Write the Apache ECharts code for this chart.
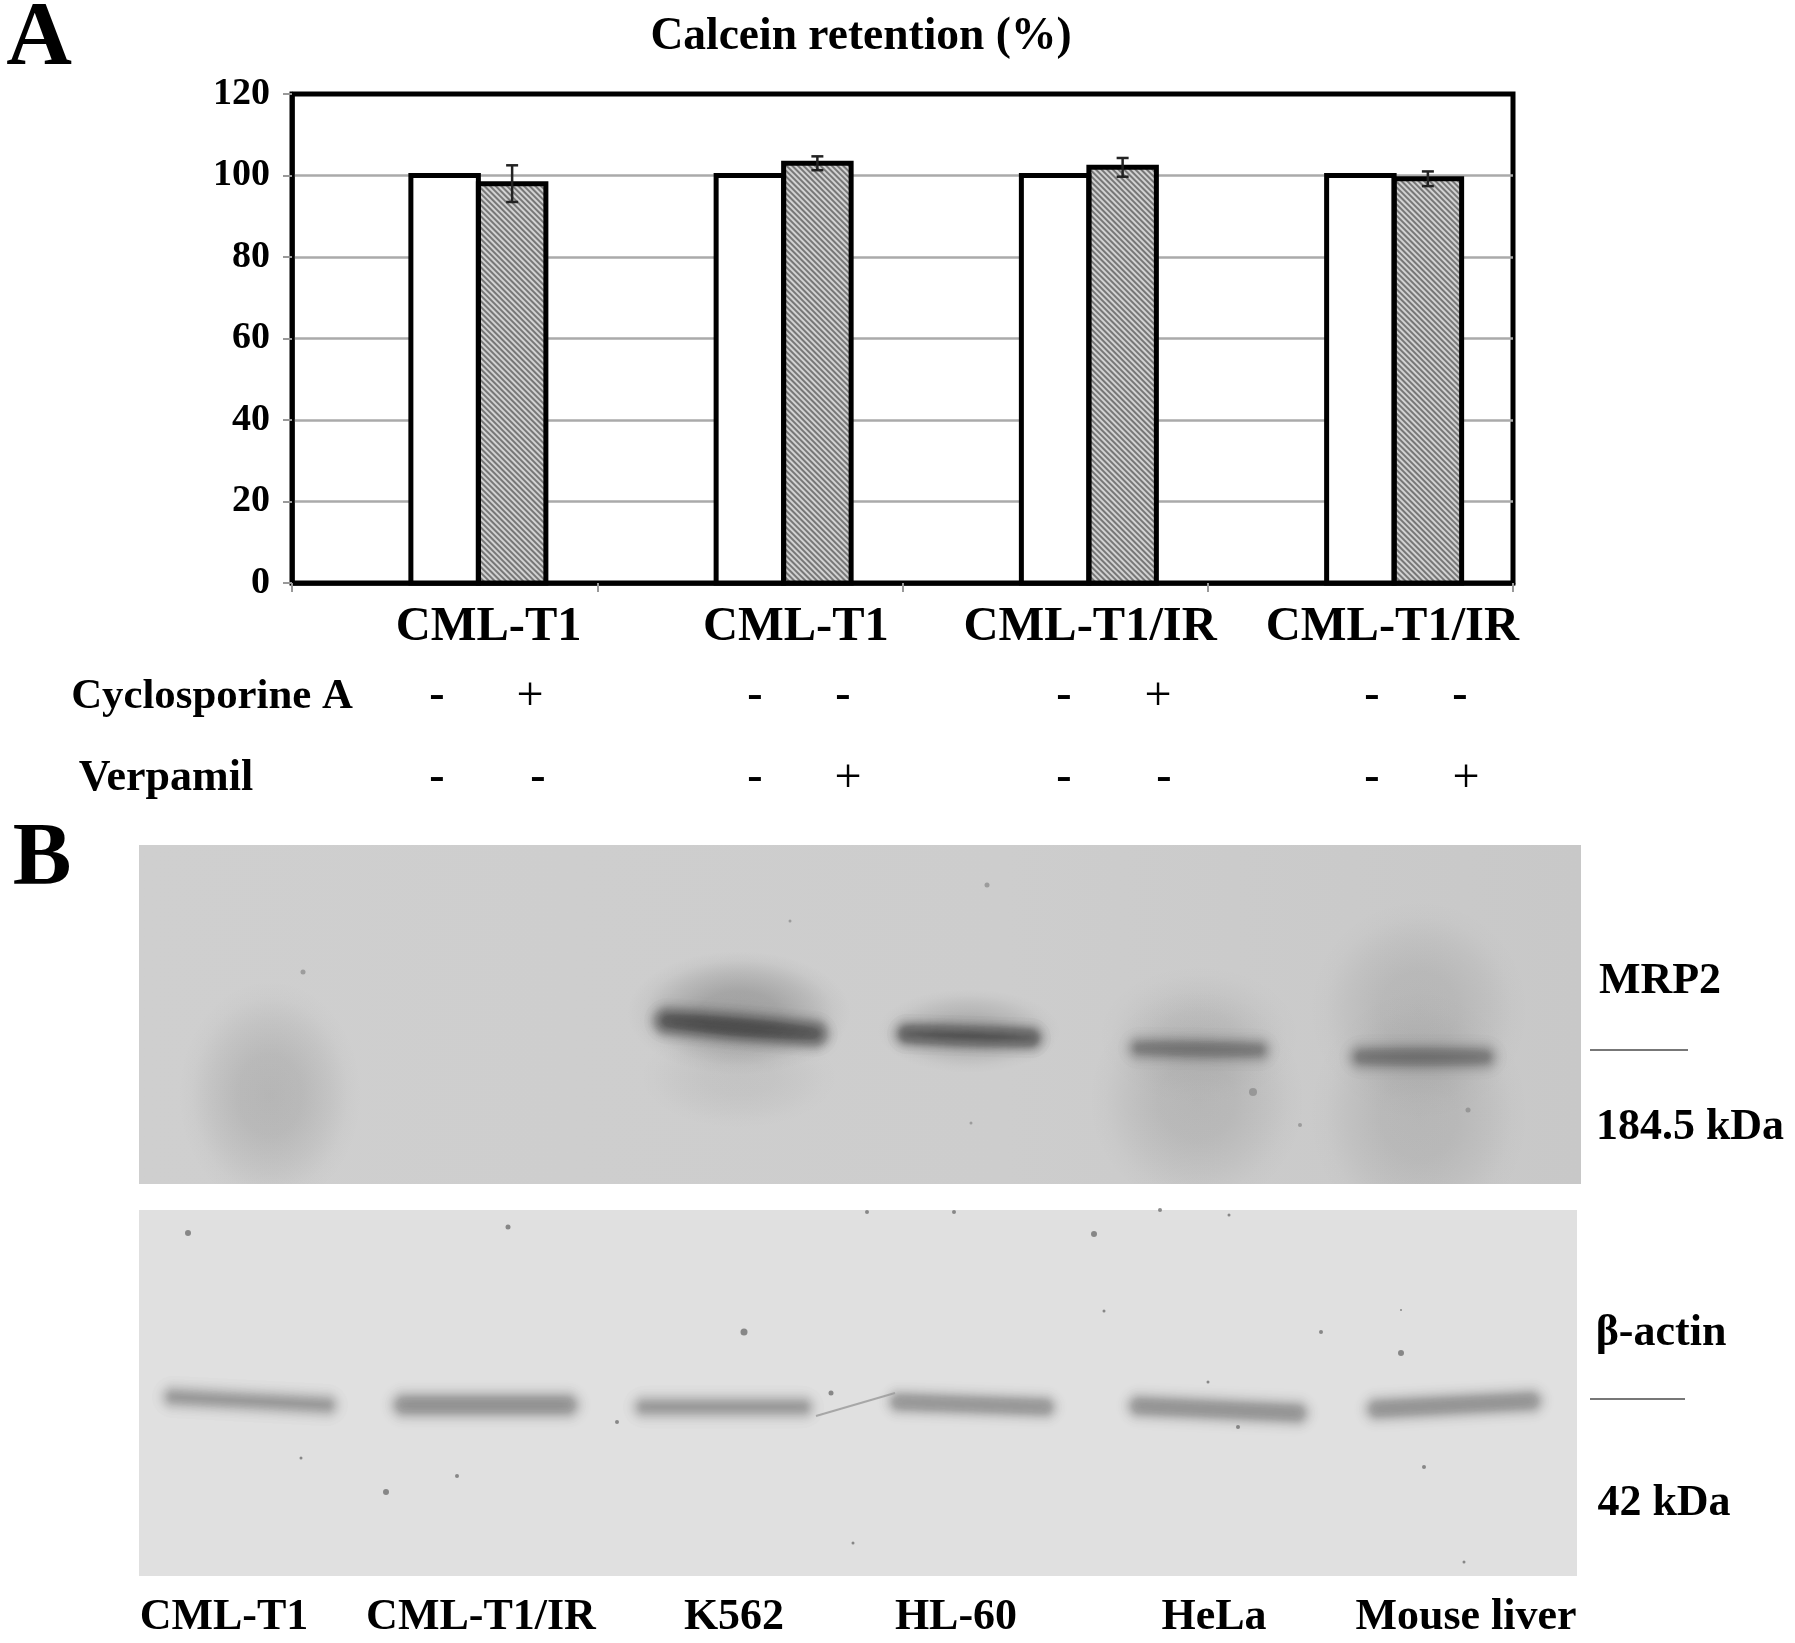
<!DOCTYPE html>
<html><head><meta charset="utf-8">
<style>html,body{margin:0;padding:0;background:#fff}#c{width:1795px;height:1643px}</style>
<script src="https://cdn.jsdelivr.net/npm/echarts@6/dist/echarts.min.js"></script>
</head><body><div id="c"></div>
<script>
// ---- data ----
const categories = ['CML-T1','CML-T1','CML-T1/IR','CML-T1/IR'];
const control = [100,100,100,100];
const treated = [98,103,102,99.2];
const treatedErr = [4.5,1.7,2.3,1.8];
const yTicks = [0,20,40,60,80,100,120];
const title = 'Calcein retention (%)';
const cyclosporine = ['-','+','-','-','-','+','-','-'];
const verapamil = ['-','-','-','+','-','-','-','+'];
const laneNames = ['CML-T1','CML-T1/IR','K562','HL-60','HeLa','Mouse liver'];

// gel bands in lane/migration units of each blot: [x0,y0,x1,y1,darkness,thickness]
const mrp2Bands = [
 [528,176,676,189,.42,46],[768,189,892,193,.3,42],
 [1000,203,1120,205,.18,44],[1222,212,1346,212,.2,46]
];
// diffuse smears: [centre x, centre y, radius x, radius y, darkness]
const mrp2Smears = [
 [131,250,92,115,.14],
 [600,168,112,62,.26],[600,232,100,52,.06],
 [830,186,92,42,.18],
 [1060,190,102,70,.07],[1058,255,108,110,.12],
 [1280,165,110,110,.11],[1280,270,110,125,.11]
];
const actinBands = [
 [34,187,188,195,.2,44],[265,195,428,195,.24,46],[505,197,664,197,.21,44],
 [760,192,906,197,.28,42],[1000,196,1158,203,.24,44],[1238,199,1392,191,.22,44]
];
const mrp2Specks = [[164,127,5],[848,40,5],[651,76,3],[1114,247,8],[1161,280,4],[1329,265,5],[832,278,3]];
const actinSpecks = [[49,23,6],[369,17,5],[728,2,4],[955,24,6],[815,2,4],[1021,0,4],[692,183,5],[478,212,4],[247,282,6],[318,266,4],[162,248,3],[605,122,7],[714,333,3],[1182,122,4],[965,101,3],[1262,143,6],[1099,217,4],[1285,257,4],[1069,172,3],[1325,352,3],[1090,5,3],[1262,100,2]];
const scratch = [[677,206,756,183,.45,2]];

// ---- layout ----
const BAR_W = 67.5;
const FONT = '"Liberation Serif"';
const txt = (s,x,y,size,extra) => ({type:'text',x,y,silent:true,style:Object.assign({text:s,fill:'#000',font:`bold ${size}px ${FONT}`,align:'center',verticalAlign:'middle'},extra||{})});
const signX1 = [437,530,755,843,1064,1158,1372,1460];
const signX2 = [437,538,755,848,1064,1164,1372,1466];
const laneX = [224,481,734,956,1214,1466];
const labelShift = [44,46,35,32];

const clipOf = params => ({type:'rect',shape:{x:params.coordSys.x,y:params.coordSys.y,width:params.coordSys.width,height:params.coordSys.height}});
function softBand(color){
  return function(params,api){
    const a = api.coord([api.value(0),api.value(1)]);
    const b = api.coord([api.value(2),api.value(3)]);
    const dark = api.value(4), th = api.value(5);
    const N = Math.max(3,Math.min(24,Math.round(th/2),Math.floor(dark/.005)));
    const kids = [];
    for(let i=0;i<N;i++){
      const w = th/2*Math.sqrt(-Math.log((i+.5)/N));
      kids.push({type:'line',shape:{x1:a[0],y1:a[1],x2:b[0],y2:b[1]},
        style:{stroke:color,lineWidth:w,lineCap:'round',opacity:dark/N,fill:null,shadowBlur:th/4,shadowColor:color},silent:true});
    }
    return {type:'group',children:kids,clipPath:clipOf(params)};
  };
}
function softSmear(params,api){
  const c = api.coord([api.value(0),api.value(1)]);
  const s = api.size([api.value(2),api.value(3)]);
  const d = api.value(4);
  const rgba = k => `rgba(30,30,30,${(d*k).toFixed(4)})`;
  return {type:'group',clipPath:clipOf(params),children:[{
    type:'circle',x:c[0],y:c[1],scaleX:s[0]/s[1],scaleY:1,silent:true,
    shape:{cx:0,cy:0,r:s[1]},
    style:{fill:{type:'radial',x:.5,y:.5,r:.5,colorStops:[
      {offset:0,color:rgba(1)},{offset:.35,color:rgba(.88)},{offset:.65,color:rgba(.45)},{offset:.85,color:rgba(.12)},{offset:1,color:rgba(0)}]}}
  }]};
}
const gelAxes = (idx,w,h)=>({
  x:{type:'value',gridIndex:idx,min:0,max:w,show:false},
  y:{type:'value',gridIndex:idx,min:0,max:h,inverse:true,show:false}
});
const g1 = gelAxes(1,1442,339), g2 = gelAxes(2,1438,366);

const graphicEls = [
  txt('A',39,40,91),txt('B',42,860,88),
  txt('Cyclosporine A',212,697,42.8),txt('Verpamil',166,779,44),
  txt('MRP2',1660,982,44),txt('184.5 kDa',1690,1128,44),
  txt('β-actin',1661,1334,44),txt('42 kDa',1664,1504,44),
  {type:'line',silent:true,shape:{x1:1590,y1:1050,x2:1688,y2:1050},style:{stroke:'#777',lineWidth:2}},
  {type:'line',silent:true,shape:{x1:1590,y1:1399,x2:1685,y2:1399},style:{stroke:'#777',lineWidth:2}}
];
cyclosporine.forEach((s,i)=>graphicEls.push(txt(s,signX1[i],s==='+'?697:696,46,s==='+'?{font:`48px ${FONT}`}:{})));
verapamil.forEach((s,i)=>graphicEls.push(txt(s,signX2[i],s==='+'?779:778,46,s==='+'?{font:`48px ${FONT}`}:{})));
laneNames.forEach((s,i)=>graphicEls.push(txt(s,laneX[i],1618,44)));

const outlineData = control.map((v,i)=>[i,v,0]).concat(treated.map((v,i)=>[i,v,1]));

const chart = echarts.init(document.getElementById('c'));
chart.setOption({
  animation:false,
  backgroundColor:'#fff',
  title:{text:title,left:856,top:9,textAlign:'center',textStyle:{fontFamily:FONT,fontWeight:'bold',fontSize:45.5,color:'#000'}},
  graphic:graphicEls,
  grid:[
    {left:292,top:94,width:1221,height:489,show:true,borderColor:'#000',borderWidth:5,backgroundColor:'#fff'},
    {left:139,top:845,width:1442,height:339,show:true,borderWidth:0,
     backgroundColor:{type:'linear',x:0,y:0,x2:1,y2:0,colorStops:[{offset:0,color:'#cfcfcf'},{offset:.6,color:'#cdcdcd'},{offset:1,color:'#c8c8c8'}]}},
    {left:139,top:1210,width:1438,height:366,show:true,borderWidth:0,backgroundColor:'#e0e0e0'}
  ],
  xAxis:[
    {type:'category',gridIndex:0,data:categories.map((c,i)=>({value:c,textStyle:{padding:[0,0,0,labelShift[i]*2]}})),
     axisLine:{lineStyle:{color:'#000',width:4.5}},
     axisTick:{show:true,alignWithLabel:false,length:9,lineStyle:{color:'#999',width:2}},
     axisLabel:{interval:0,margin:20,fontFamily:FONT,fontWeight:'bold',fontSize:48.5,color:'#000',hideOverlap:false}},
    g1.x,g2.x
  ],
  yAxis:[
    {type:'value',gridIndex:0,min:yTicks[0],max:yTicks[yTicks.length-1],interval:20,
     axisLine:{show:true,lineStyle:{color:'#000',width:4.5}},
     axisTick:{show:true,length:9,lineStyle:{color:'#999',width:2}},
     splitLine:{show:true,showMaxLine:false,showMinLine:false,lineStyle:{color:'#aaa',width:2.5}},
     axisLabel:{margin:22,fontFamily:FONT,fontWeight:'bold',fontSize:38,color:'#000'}},
    g1.y,g2.y
  ],
  series:[
    {name:'(empty)',type:'bar',xAxisIndex:0,yAxisIndex:0,data:[null,null,null,null],barWidth:BAR_W,barGap:0},
    {name:'Control',type:'bar',xAxisIndex:0,yAxisIndex:0,data:control,barWidth:BAR_W,barGap:0,
     itemStyle:{color:'#fff'}},
    {name:'Treated',type:'bar',xAxisIndex:0,yAxisIndex:0,data:treated,barWidth:BAR_W,barGap:0,
     itemStyle:{color:'#d2d2d2',
       decal:{symbol:'rect',color:'#777',dashArrayX:[1,0],dashArrayY:[2,2],symbolSize:1,rotation:Math.PI/4}}},
    {name:'Bar outline',type:'custom',xAxisIndex:0,yAxisIndex:0,z:4,data:outlineData,encode:{x:0,y:1},
     renderItem:(p,api)=>{
       const top=api.coord([api.value(0),api.value(1)]), base=api.coord([api.value(0),0]);
       const x=top[0]+api.value(2)*BAR_W-BAR_W/2;
       return {type:'rect',shape:{x,y:top[1],width:BAR_W,height:base[1]-top[1]},
               style:{fill:null,stroke:'#000',lineWidth:5}};
     }},
    {name:'Error',type:'custom',xAxisIndex:0,yAxisIndex:0,z:5,
     data:treated.map((v,i)=>[i,v-treatedErr[i],v+treatedErr[i]]),
     encode:{x:0,y:[1,2]},
     renderItem:(p,api)=>{
       const lo=api.coord([api.value(0),api.value(1)]), hi=api.coord([api.value(0),api.value(2)]);
       const x=lo[0]+BAR_W, s={stroke:'#222',lineWidth:2.5,fill:null};
       return {type:'group',children:[
         {type:'line',shape:{x1:x,y1:lo[1],x2:x,y2:hi[1]},style:s},
         {type:'line',shape:{x1:x-6,y1:lo[1],x2:x+6,y2:lo[1]},style:s},
         {type:'line',shape:{x1:x-6,y1:hi[1],x2:x+6,y2:hi[1]},style:s}
       ]};
     }},
    {name:'MRP2 smears',type:'custom',xAxisIndex:1,yAxisIndex:1,data:mrp2Smears,renderItem:softSmear},
    {name:'MRP2',type:'custom',xAxisIndex:1,yAxisIndex:1,data:mrp2Bands,renderItem:softBand('#1e1e1e')},
    {name:'MRP2 specks',type:'scatter',xAxisIndex:1,yAxisIndex:1,data:mrp2Specks,symbolSize:d=>d[2],itemStyle:{color:'#888',opacity:.7}},
    {name:'beta-actin',type:'custom',xAxisIndex:2,yAxisIndex:2,data:actinBands,renderItem:softBand('#3c3c3c')},
    {name:'actin scratch',type:'custom',xAxisIndex:2,yAxisIndex:2,data:scratch,renderItem:(p,api)=>{
       const a=api.coord([api.value(0),api.value(1)]),b=api.coord([api.value(2),api.value(3)]);
       return {type:'line',shape:{x1:a[0],y1:a[1],x2:b[0],y2:b[1]},style:{stroke:'#999',lineWidth:api.value(5),opacity:.8}};
    }},
    {name:'actin specks',type:'scatter',xAxisIndex:2,yAxisIndex:2,data:actinSpecks,symbolSize:d=>d[2],itemStyle:{color:'#6a6a6a',opacity:.75}}
  ]
});
</script></body></html>
